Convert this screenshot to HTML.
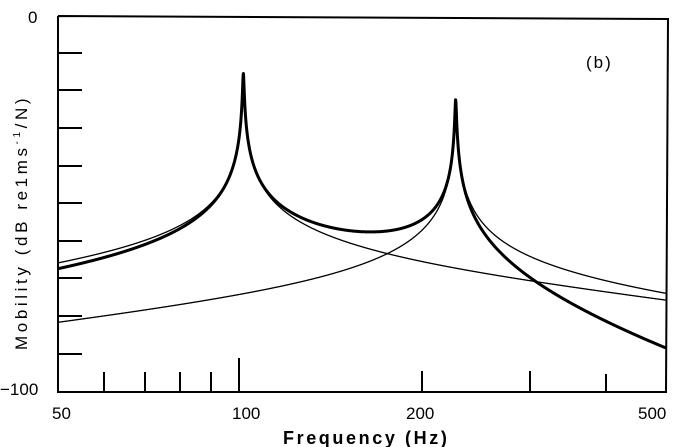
<!DOCTYPE html>
<html><head><meta charset="utf-8"><style>
html,body{margin:0;padding:0;background:#fff;}
svg{display:block;font-family:"Liberation Sans",sans-serif;}
</style></head><body>
<svg id="s" width="679" height="447" viewBox="0 0 679 447" xmlns="http://www.w3.org/2000/svg">
<g stroke="#000" fill="none" stroke-width="2">
<polyline points="58,16 668,19 666,392 58,392 58,16"/>
<path d="M58,53H82M58,90H82M58,128H82M58,166H82M58,203H82M58,241H82M58,278H82M58,316H82M58,354H82"/>
<path d="M104,392V372M145,392V372M180,392V372M211,392V372M239,392V358M422,392V371M530,392V371M606,392V374"/>
</g>
<g id="c" fill="none" stroke="#000" stroke-linejoin="round"></g>
<g font-size="17" fill="#000">
<text x="28" y="23">0</text>
<text x="0" y="395">−100</text>
<text x="52" y="419">50</text>
<text x="232" y="419">100</text>
<text x="406" y="419">200</text>
<text x="638" y="419">500</text>
<text x="586" y="68" font-size="17" letter-spacing="2">(b)</text>
<text x="283" y="444" font-size="18" font-weight="bold" letter-spacing="2.6">Frequency  (Hz)</text>
<text transform="translate(27,350) rotate(-90)" font-size="17" letter-spacing="3.6">Mobility  (dB  re1ms<tspan font-size="10" dy="-7">-1</tspan><tspan dy="7">/N)</tspan></text>
</g>
</svg>
<script>
function fx(x){return 50*Math.pow(10,(x-58)/607);}
function Y(f,A,f0,eta){var r=f/f0,m=Math.pow(10,A/20)*r;var re=1-r*r,im=eta*r,d=re*re+im*im;
return [m*im/d, m*re/d];}
function ypx(mag){var db=20*Math.log10(mag);return 16-db*3.76;}
var p1=[],p2=[],p3=[];
for(var x=58;x<=666;x+=0.2){var f=fx(x);
var a=Y(f,-62,101,0.0046),b=Y(f,-68.8,226,0.0047);
var ma=Math.hypot(a[0],a[1]),mb=Math.hypot(b[0],b[1]),mc=Math.hypot(a[0]-b[0],a[1]-b[1]);
p1.push(x.toFixed(1)+","+ypx(ma).toFixed(1));p2.push(x.toFixed(1)+","+ypx(mb).toFixed(1));p3.push(x.toFixed(1)+","+ypx(mc).toFixed(1));}
var g=document.getElementById("c");
function add(pts,w){var e=document.createElementNS("http://www.w3.org/2000/svg","polyline");e.setAttribute("points",pts.join(" "));e.setAttribute("stroke-width",w);g.appendChild(e);}
add(p1,1.3);add(p2,1.3);add(p3,3);
</script>
</body></html>
